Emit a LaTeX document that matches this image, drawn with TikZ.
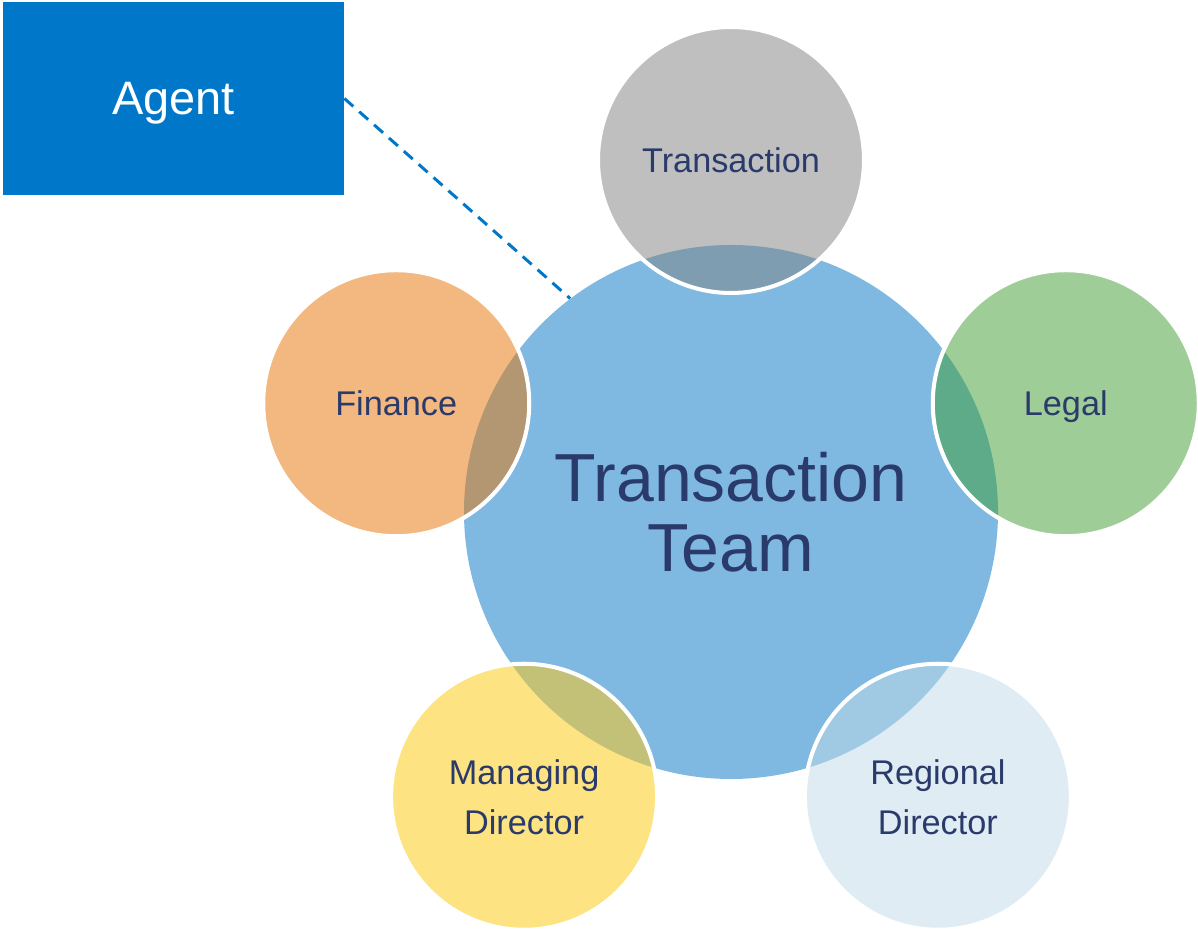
\documentclass[tikz,border=0pt]{standalone}
\usepackage{fontspec}
\setmainfont{Liberation Sans}
\usetikzlibrary{positioning, calc}

\definecolor{teamBlue}{HTML}{7FB9E1}
\definecolor{labelNavy}{HTML}{2A3A6A}
\definecolor{agentBlue}{HTML}{0077C8}
\definecolor{transGray}{HTML}{BFBFBF}
\definecolor{transOver}{HTML}{7F9DB1}
\definecolor{legalGreen}{HTML}{9FCD97}
\definecolor{legalOver}{HTML}{5EAB8A}
\definecolor{regionalBlue}{HTML}{DFECF4}
\definecolor{regionalOver}{HTML}{A0CAE4}
\definecolor{managingYellow}{HTML}{FDE382}
\definecolor{managingOver}{HTML}{C2C177}
\definecolor{financeOrange}{HTML}{F2B880}
\definecolor{financeOver}{HTML}{B29772}

\begin{document}
\begin{tikzpicture}[every node/.style={align=center, text=labelNavy},
				      teamVertex/.style={
						      shape=circle, fill=teamBlue,
						      minimum size=10.68cm, inner sep=0pt,
						      font=\fontsize{38.7}{39.8}\selectfont
					      },
				      roleVertex/.style={
						      shape=circle, text depth=0pt,
						      minimum size=5.32cm, inner sep=0pt,
						      font=\fontsize{19.5}{28.5}\selectfont
					      },
				      agentBox/.style={
						      shape=rectangle, fill=agentBlue, text=white, text depth=0pt,
						      minimum width=6.82cm, minimum height=3.86cm,
						      font=\fontsize{26.7}{30}\selectfont
					      },
				      ringLine/.style={draw=white, line width=2.3pt},
				      agentLink/.style={draw=agentBlue, line width=1.7pt, dash pattern=on 6.8pt off 4.5pt}
			      ]

			      \useasboundingbox (0,0) rectangle (23.96,18.6);

			      % Centre
			      \node[teamVertex] (team) at (14.62,8.36) {Transaction\\Team};

			      % Roles round the centre
			      \node[roleVertex, fill=transGray] (trans) at ($(team)+(90:7.04)$) {Transaction};
			      \node[roleVertex, fill=legalGreen] (legal) at ($(team)+(18:7.04)$) {Legal};
			      \node[roleVertex, fill=regionalBlue] (regional) at ($(team)+(-54:7.04)$) {Regional\\Director};
			      \node[roleVertex, fill=managingYellow] (managing) at ($(team)+(-126:7.04)$) {Managing\\Director};
			      \node[roleVertex, fill=financeOrange] (finance) at ($(team)+(162:7.04)$) {Finance};

			      % Overlaps and white rings
			      \foreach \role/\over in {trans/transOver, legal/legalOver, regional/regionalOver,
					      managing/managingOver, finance/financeOver} {
					      \begin{scope}
						      \clip (team.center) circle (5.34);
						      \fill[\over] (\role.center) circle (2.66);
					      \end{scope}
					      \draw[ringLine] (\role.center) circle (2.66);
				      }

			      % Agent
			      \node[agentBox] (agent) at (3.47,16.63) {Agent};
			      \draw[agentLink] (agent.east) -- (team.127);
		      \end{tikzpicture}
\end{document}
